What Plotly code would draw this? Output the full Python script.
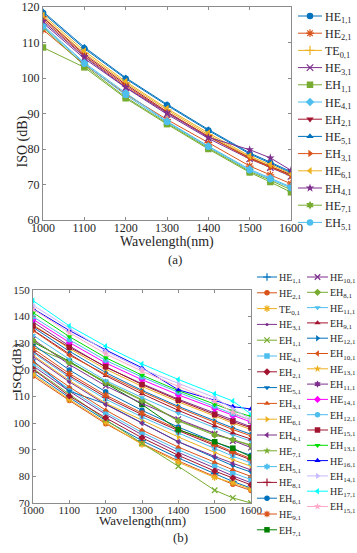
import plotly.graph_objects as go

W, H = 357, 553
FONT = "Liberation Serif"

wavelength = [1000, 1100, 1200, 1300, 1400, 1500, 1550, 1600]
x_ticks = [1000, 1100, 1200, 1300, 1400, 1500, 1600]
a_y_ticks = [60, 70, 80, 90, 100, 110, 120]
b_y_ticks = [70, 80, 90, 100, 110, 120, 130, 140, 150]

# ---------------- (a) ----------------
a_labels = ["HE<sub>1,1</sub>", "HE<sub>2,1</sub>", "TE<sub>0,1</sub>", "HE<sub>3,1</sub>",
            "EH<sub>1,1</sub>", "HE<sub>4,1</sub>", "EH<sub>2,1</sub>", "HE<sub>5,1</sub>",
            "EH<sub>3,1</sub>", "HE<sub>6,1</sub>", "EH<sub>4,1</sub>", "HE<sub>7,1</sub>",
            "EH<sub>5,1</sub>"]
a_HE11 = [118.3, 108.3, 99.8, 92.3, 85.2, 78.6, 76.0, 73.3]
a_HE21 = [113.6, 103.8, 95.5, 88.3, 81.8, 75.2, 72.7, 70.2]
a_TE01 = [117.2, 107.0, 98.6, 91.0, 84.0, 77.7, 75.2, 72.7]
a_HE31 = [115.5, 105.5, 97.3, 89.8, 83.0, 77.2, 74.8, 72.3]
a_EH11 = [108.6, 103.0, 94.3, 87.0, 80.0, 73.4, 70.7, 67.8]
a_HE41 = [114.9, 104.3, 95.8, 87.8, 80.8, 74.3, 71.8, 69.3]
a_EH21 = [117.0, 106.6, 98.2, 90.5, 83.5, 77.5, 75.0, 72.8]
a_HE51 = [118.7, 108.7, 100.1, 92.6, 85.5, 78.9, 76.3, 73.6]
a_EH31 = [116.5, 106.2, 97.8, 90.3, 83.6, 77.3, 74.9, 72.5]
a_HE61 = [117.7, 107.6, 99.0, 91.4, 84.5, 78.0, 75.6, 73.0]
a_EH41 = [116.0, 106.0, 97.4, 90.2, 83.3, 79.8, 77.5, 74.0]
a_HE71 = [114.2, 103.5, 94.6, 87.3, 80.3, 73.7, 71.2, 68.5]
a_EH51 = [114.5, 104.0, 95.2, 87.6, 80.6, 74.0, 71.5, 69.0]
a_series = [a_HE11, a_HE21, a_TE01, a_HE31, a_EH11, a_HE41, a_EH21, a_HE51,
            a_EH31, a_HE61, a_EH41, a_HE71, a_EH51]
a_colors = ["#0072BD", "#D95319", "#EDB120", "#7E2F8E", "#77AC30", "#4DBEEE", "#A2142F",
            "#0072BD", "#D95319", "#EDB120", "#7E2F8E", "#77AC30", "#4DBEEE"]
a_markers = ["o", "*", "+", "x", "s", "d", "v", "^", ">", "<", "p", "h", "o"]

# ---------------- (b) ----------------
b1_labels = ["HE<sub>1,1</sub>", "HE<sub>2,1</sub>", "TE<sub>0,1</sub>", "HE<sub>3,1</sub>",
             "EH<sub>1,1</sub>", "HE<sub>4,1</sub>", "EH<sub>2,1</sub>", "HE<sub>5,1</sub>",
             "EH<sub>3,1</sub>", "HE<sub>6,1</sub>", "EH<sub>4,1</sub>", "HE<sub>7,1</sub>",
             "EH<sub>5,1</sub>", "HE<sub>8,1</sub>", "EH<sub>6,1</sub>", "HE<sub>9,1</sub>",
             "EH<sub>7,1</sub>"]
b_HE11 = [119.0, 109.6, 101.0, 93.4, 86.9, 81.0, 78.1, 75.6]
b_HE21 = [117.7, 108.5, 99.8, 92.3, 85.8, 80.0, 77.0, 74.7]
b_TE01 = [118.3, 108.9, 100.3, 92.0, 85.3, 79.6, 77.6, 75.2]
b_HE31 = [121.5, 112.0, 103.3, 95.6, 89.0, 83.1, 80.2, 77.6]
b_EH11 = [120.5, 110.8, 101.3, 92.4, 83.8, 74.8, 71.9, 70.0]
b_HE41 = [122.3, 112.8, 104.0, 96.5, 90.0, 84.2, 81.3, 78.8]
b_EH21 = [120.2, 110.2, 102.0, 94.5, 87.9, 82.0, 79.4, 76.8]
b_HE51 = [123.5, 112.0, 107.2, 100.0, 93.0, 87.0, 84.0, 81.6]
b_EH31 = [123.0, 113.6, 104.9, 97.4, 91.0, 85.3, 82.5, 80.0]
b_HE61 = [125.5, 116.0, 107.5, 101.0, 94.8, 89.0, 86.2, 83.8]
b_EH41 = [125.0, 115.5, 107.0, 100.0, 93.0, 87.5, 84.8, 82.4]
b_HE71 = [128.5, 123.0, 115.5, 108.8, 101.0, 96.0, 93.8, 91.5]
b_EH51 = [126.5, 117.2, 109.0, 102.3, 96.3, 90.4, 87.6, 85.0]
b_HE81 = [127.0, 117.8, 109.8, 103.2, 97.2, 91.5, 88.8, 86.2]
b_EH61 = [129.5, 120.0, 111.8, 104.8, 98.5, 92.8, 90.2, 87.9]
b_HE91 = [128.0, 118.6, 110.5, 103.8, 97.7, 92.0, 89.3, 86.7]
b_EH71 = [130.5, 123.2, 115.0, 107.0, 97.5, 93.0, 90.6, 87.3]
b1_series = [b_HE11, b_HE21, b_TE01, b_HE31, b_EH11, b_HE41, b_EH21, b_HE51, b_EH31,
             b_HE61, b_EH41, b_HE71, b_EH51, b_HE81, b_EH61, b_HE91, b_EH71]
b1_colors = ["#0072BD", "#D95319", "#EDB120", "#7E2F8E", "#77AC30", "#4DBEEE", "#A2142F",
             "#0072BD", "#D95319", "#EDB120", "#7E2F8E", "#77AC30", "#4DBEEE", "#A2142F",
             "#0072BD", "#D95319", "#008000"]
b1_markers = ["+", "o", "*", ".", "x", "s", "d", "v", "^", ">", "<", "p", "h", "+", "o", "*", "s"]

b2_labels = ["HE<sub>10,1</sub>", "EH<sub>8,1</sub>", "HE<sub>11,1</sub>", "EH<sub>9,1</sub>",
             "HE<sub>12,1</sub>", "EH<sub>10,1</sub>", "HE<sub>13,1</sub>", "EH<sub>11,1</sub>",
             "HE<sub>14,1</sub>", "EH<sub>12,1</sub>", "HE<sub>15,1</sub>", "EH<sub>13,1</sub>",
             "HE<sub>16,1</sub>", "EH<sub>14,1</sub>", "HE<sub>17,1</sub>", "EH<sub>15,1</sub>"]
b_HE101 = [131.5, 122.0, 114.0, 107.4, 101.5, 96.0, 93.3, 90.8]
b_EH81 = [131.0, 122.8, 115.2, 108.5, 100.8, 95.5, 93.8, 91.8]
b_HE111 = [133.0, 124.0, 116.0, 109.6, 103.7, 98.2, 95.6, 93.2]
b_EH91 = [135.0, 126.0, 117.8, 111.0, 104.8, 99.0, 96.3, 94.0]
b_HE121 = [136.0, 127.0, 119.0, 112.3, 106.3, 100.8, 98.2, 95.8]
b_EH101 = [134.8, 125.5, 118.3, 111.8, 105.8, 100.2, 97.6, 95.2]
b_HE131 = [137.0, 128.0, 120.3, 113.8, 108.0, 102.6, 100.0, 97.6]
b_EH111 = [138.0, 129.0, 121.0, 114.8, 109.0, 103.8, 101.2, 98.6]
b_HE141 = [139.0, 130.3, 122.6, 116.3, 110.6, 105.4, 102.8, 100.4]
b_EH121 = [140.0, 131.3, 123.6, 117.3, 111.6, 106.3, 103.5, 101.2]
b_HE151 = [136.5, 128.5, 121.2, 114.5, 108.6, 103.2, 100.6, 98.2]
b_EH131 = [141.5, 132.5, 124.6, 118.0, 112.2, 107.0, 104.6, 102.5]
b_HE161 = [143.0, 134.8, 127.5, 120.8, 112.5, 108.6, 106.2, 105.3]
b_EH141 = [144.3, 135.5, 127.0, 120.3, 114.8, 109.6, 105.3, 101.5]
b_HE171 = [146.0, 136.5, 128.9, 122.2, 116.4, 111.0, 108.3, 103.4]
b_EH151 = [142.8, 134.0, 126.0, 119.5, 113.8, 108.2, 104.0, 101.0]
b2_series = [b_HE101, b_EH81, b_HE111, b_EH91, b_HE121, b_EH101, b_HE131, b_EH111,
             b_HE141, b_EH121, b_HE151, b_EH131, b_HE161, b_EH141, b_HE171, b_EH151]
b2_colors = ["#7E2F8E", "#77AC30", "#4DBEEE", "#A2142F", "#0072BD", "#D95319", "#EDB120",
             "#7E2F8E", "#FF00FF", "#4DBEEE", "#A2142F", "#00DD00", "#0000FF", "#C8B8FF",
             "#00FFFF", "#FFA8C8"]
b2_markers = ["x", "d", "v", "^", ">", "<", "p", "h", "d", "o", "s", "v", "^", ">", "<", "p"]

SYM = {"o": "circle", "*": "asterisk", "+": "cross-thin", "x": "x-thin", "s": "square",
       "d": "diamond", "v": "triangle-down", "^": "triangle-up", ">": "triangle-right",
       "<": "triangle-left", "p": "star", "h": "hexagram", ".": "circle"}
THIN = {"*", "+", "x"}


def marker(m, color, size):
    if m in THIN:
        return dict(symbol=SYM[m], size=size, color=color, line=dict(width=1.2, color=color))
    if m == ".":
        return dict(symbol="circle", size=size * 0.55, color=color, line=dict(width=0))
    return dict(symbol=SYM[m], size=size, color=color, line=dict(width=0))


fig = go.Figure()

for name, ys, c, m in zip(a_labels, a_series, a_colors, a_markers):
    fig.add_trace(go.Scatter(x=wavelength, y=ys, name=name, mode="lines+markers",
                             line=dict(color=c, width=1), marker=marker(m, c, 6.5),
                             xaxis="x", yaxis="y", legend="legend"))

for name, ys, c, m in zip(b1_labels, b1_series, b1_colors, b1_markers):
    fig.add_trace(go.Scatter(x=wavelength, y=ys, name=name, mode="lines+markers",
                             line=dict(color=c, width=1), marker=marker(m, c, 5.5),
                             xaxis="x2", yaxis="y2", legend="legend2"))

for name, ys, c, m in zip(b2_labels, b2_series, b2_colors, b2_markers):
    fig.add_trace(go.Scatter(x=wavelength, y=ys, name=name, mode="lines+markers",
                             line=dict(color=c, width=1), marker=marker(m, c, 5.5),
                             xaxis="x2", yaxis="y2", legend="legend3"))


def axis_style(size, standoff):
    return dict(showgrid=False, zeroline=False, showline=True, mirror="ticks",
                linecolor="#8c8c8c", linewidth=1, ticks="inside", ticklen=3,
                tickcolor="#8c8c8c", ticklabelstandoff=standoff,
                tickfont=dict(family=FONT, size=size, color="#262626"))


legend_common = dict(xanchor="left", yanchor="top", bgcolor="rgba(0,0,0,0)",
                     borderwidth=0, itemwidth=30)

fig.update_layout(
    width=W, height=H, autosize=False,
    margin=dict(l=0, r=0, t=0, b=0, pad=0, autoexpand=False),
    paper_bgcolor="white", plot_bgcolor="white",
    font=dict(family=FONT, color="#262626"),
    showlegend=True,
    xaxis=dict(domain=[43 / W, 291 / W], range=[1000, 1600], tickvals=x_ticks,
               anchor="y", **axis_style(12, -3)),
    yaxis=dict(domain=[1 - 220 / H, 1 - 7 / H], range=[60, 120], tickvals=a_y_ticks,
               anchor="x", **axis_style(12, 0)),
    xaxis2=dict(domain=[33 / W, 251 / W], range=[1000, 1600], tickvals=x_ticks,
                anchor="y2", **axis_style(11, -3)),
    yaxis2=dict(domain=[1 - 503 / H, 1 - 290 / H], range=[70, 150], tickvals=b_y_ticks,
                anchor="x2", **axis_style(11, 0)),
    legend=dict(x=285 / W, y=1 - 1.5 / H, font=dict(family=FONT, size=12, color="#262626"),
                **legend_common),
    legend2=dict(x=239 / W, y=1 - 262.5 / H, font=dict(family=FONT, size=10, color="#262626"),
                 **legend_common),
    legend3=dict(x=290 / W, y=1 - 262.5 / H, font=dict(family=FONT, size=10, color="#262626"),
                 **legend_common),
    annotations=[
        dict(text="Wavelength(nm)", x=167 / W, y=1 - 242 / H, xref="paper", yref="paper",
             showarrow=False, font=dict(family=FONT, size=14, color="#262626")),
        dict(text="(a)", x=175 / W, y=1 - 259 / H, xref="paper", yref="paper",
             showarrow=False, font=dict(family=FONT, size=13, color="#262626")),
        dict(text="ISO (dB)", x=12 / W, y=1 - 113.5 / H, xref="paper", yref="paper",
             textangle=-90, showarrow=False, font=dict(family=FONT, size=14, color="#262626")),
        dict(text="Wavelength(nm)", x=142 / W, y=1 - 530 / H, xref="paper", yref="paper",
             showarrow=False, font=dict(family=FONT, size=13, color="#262626")),
        dict(text="(b)", x=180 / W, y=1 - 546.5 / H, xref="paper", yref="paper",
             showarrow=False, font=dict(family=FONT, size=13, color="#262626")),
        dict(text="ISO (dB)", x=7 / W, y=1 - 396 / H, xref="paper", yref="paper",
             textangle=-90, showarrow=False, font=dict(family=FONT, size=13.5, color="#262626")),
    ],
)

post = """
document.body.style.margin = '0';
var gd = document.getElementById('{plot_id}');
var cfg = {
  legend:  {sp: 17.2, x0: 13, x1: 37, cx: 25},
  legend2: {sp: 15.8, x0: 18, x1: 38, cx: 28},
  legend3: {sp: 15.3, x0: 17, x1: 38, cx: 27.5}
};
Object.keys(cfg).forEach(function(k) {
  var c = cfg[k];
  var lg = gd.querySelector('g.' + k);
  if (!lg) return;
  var tr = lg.querySelectorAll('g.traces');
  var y0 = null;
  tr.forEach(function(t, i) {
    var m = /translate\\(\\s*([-\\d.e]+)[\\s,]+([-\\d.e]+)\\s*\\)/.exec(t.getAttribute('transform') || '');
    if (!m) return;
    var x = parseFloat(m[1]), y = parseFloat(m[2]);
    if (y0 === null) y0 = y;
    t.setAttribute('transform', 'translate(' + x + ',' + (y0 + i * c.sp) + ')');
    t.querySelectorAll('g.legendlines path').forEach(function(p) {
      p.setAttribute('d', 'M' + c.x0 + ',0h' + (c.x1 - c.x0));
    });
    t.querySelectorAll('g.legendpoints path').forEach(function(p) {
      p.setAttribute('transform', 'translate(' + c.cx + ',0)');
    });
  });
});
"""

fig.write_html("out.html", post_script=post, config={"displayModeBar": False})
